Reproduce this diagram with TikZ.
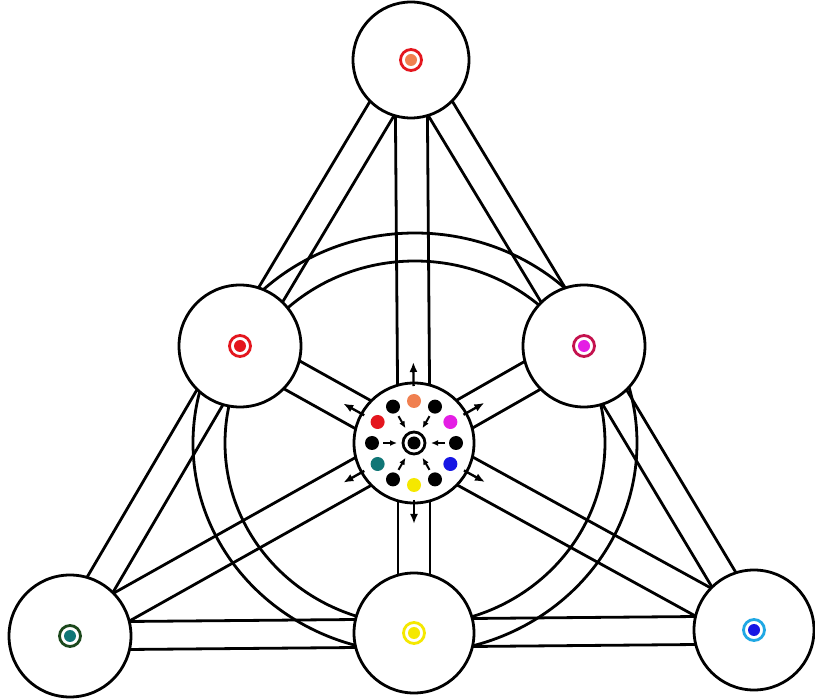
\documentclass[tikz,border=0pt]{standalone}
\usetikzlibrary{calc,arrows.meta}
\definecolor{orangeC}{RGB}{240,128,80}
\definecolor{redC}{RGB}{228,22,30}
\definecolor{magentaC}{RGB}{228,30,228}
\definecolor{crimsonC}{RGB}{196,18,78}
\definecolor{tealC}{RGB}{16,118,118}
\definecolor{dgreenC}{RGB}{28,72,28}
\definecolor{yellowC}{RGB}{245,232,0}
\definecolor{blueC}{RGB}{22,22,228}
\definecolor{lblueC}{RGB}{32,168,228}
\newcommand\mybeam[3]{%
  \draw[edge] ($(#1)!#3!90:(#2)$) -- ($(#2)!#3!-90:(#1)$);
  \draw[edge] ($(#1)!#3!-90:(#2)$) -- ($(#2)!#3!90:(#1)$);}
\begin{document}
\begin{tikzpicture}[x=1pt,y=-1pt,
  edge/.style={line width=2.8pt,black},
  hub/.style={circle,draw=black,line width=2.8pt,fill=white,inner sep=0pt,minimum size=122pt},
  outarrow/.style={line width=2.4pt,black,-{Latex[length=10pt,width=8pt]}},
  inarrow/.style={line width=2pt,black,-{Latex[length=7pt,width=6pt]}}]
\useasboundingbox (0,0) rectangle (815,700);
\fill[white] (0,0) rectangle (815,700);
% centres
\coordinate (T) at (411,60);
\coordinate (ML) at (240,346);
\coordinate (MR) at (584,346);
\coordinate (BL) at (70,636);
\coordinate (BM) at (414,633);
\coordinate (BR) at (754,630);
\coordinate (C) at (414,443);
\coordinate (R) at (415,443);
% ring
\draw[edge] (R) ellipse[x radius=222pt,y radius=210pt];
\draw[edge] (R) ellipse[x radius=190pt,y radius=182pt];
% beams
\mybeam{T}{ML}{14pt}
\mybeam{T}{MR}{14pt}
\mybeam{T}{C}{16pt}
\mybeam{ML}{BL}{15pt}
\mybeam{MR}{BR}{14pt}
\mybeam{BL}{BM}{14pt}
\mybeam{BM}{BR}{14pt}
\mybeam{C}{ML}{16pt}
\mybeam{C}{MR}{16pt}
\mybeam{C}{BL}{16pt}
\mybeam{C}{BR}{16pt}
\mybeam{C}{BM}{16pt}
% nodes
\node[hub,minimum size=116pt] (nT) at (T) {};
\node[hub] (nML) at (ML) {};
\node[hub] (nMR) at (MR) {};
\node[hub] (nBL) at (BL) {};
\node[hub,minimum size=120pt] (nBM) at (BM) {};
\node[hub,minimum size=120pt] (nBR) at (BR) {};
\node[hub,minimum size=120pt] (nC) at (C) {};
% node marks
\foreach \p/\rc/\dc in {T/redC/orangeC, ML/redC/redC, MR/crimsonC/magentaC,
    BL/dgreenC/tealC, BM/yellowC/yellowC, BR/lblueC/blueC}{
  \draw[line width=2.8pt,draw=\rc] (\p) circle[radius=10.5pt];
  \fill[\dc] (\p) circle[radius=6pt];
}
% centre target
\draw[line width=2.8pt,black] (C) circle[radius=11pt];
\fill[black] (C) circle[radius=6.5pt];
\foreach \a/\c in {90/orangeC,60/black,30/magentaC,0/black,-30/blueC,-60/black,
    -90/yellowC,-120/black,-150/tealC,180/black,150/redC,120/black}{
  \fill[\c] ($(C)+({42*cos(\a)},{-42*sin(\a)})$) circle[radius=7pt];
}
\foreach \a in {0,60,120,180,240,300}{
  \draw[inarrow] ($(C)+({31*cos(\a)},{-31*sin(\a)})$) -- ($(C)+({17*cos(\a)},{-17*sin(\a)})$);
}
% outward arrows
\foreach \p in {T,ML,MR,BL,BM,BR}{
  \draw[outarrow] ($(C)!57pt!(\p)$) -- ($(C)!81pt!(\p)$);
}
\end{tikzpicture}
\end{document}
